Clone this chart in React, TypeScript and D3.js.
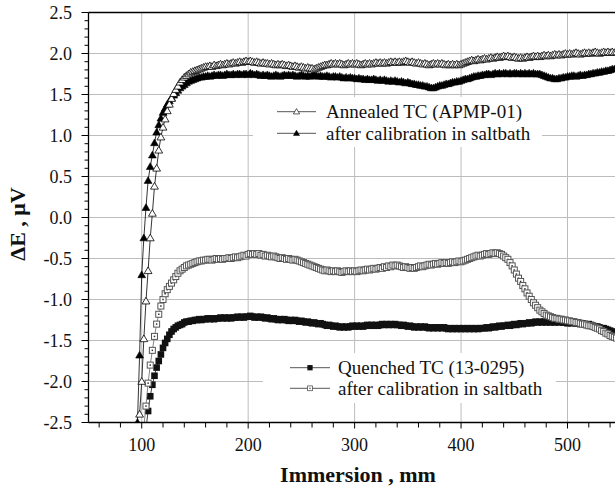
import React from 'react';
import * as d3 from 'd3';

const W = 615;
const H = 487;

const xTicks = [100, 200, 300, 400, 500];
const yTicks = [2.5, 2.0, 1.5, 1.0, 0.5, 0.0, -0.5, -1.0, -1.5, -2.0, -2.5];
const stepMm = 2;

// Open triangles: Annealed TC (APMP-01)
const annealedStart = 98;
const annealed = [
  -2.40, -2.00, -1.48, -1.02, -0.65, -0.25, 0.05, 0.38, 0.60, 0.82,
  0.98, 1.10, 1.20, 1.30, 1.38, 1.45, 1.51, 1.56, 1.60, 1.65,
  1.68, 1.71, 1.73, 1.75, 1.77, 1.78, 1.79, 1.80, 1.81, 1.82,
  1.83, 1.84, 1.84, 1.85, 1.84, 1.86, 1.85, 1.86, 1.87, 1.86,
  1.87, 1.88, 1.87, 1.88, 1.89, 1.88, 1.89, 1.90, 1.89, 1.90,
  1.91, 1.90, 1.91, 1.90, 1.89, 1.90, 1.89, 1.88, 1.89, 1.88,
  1.88, 1.87, 1.88, 1.87, 1.86, 1.87, 1.86, 1.87, 1.86, 1.85,
  1.86, 1.85, 1.84, 1.85, 1.84, 1.83, 1.84, 1.83, 1.82, 1.83,
  1.82, 1.82, 1.81, 1.82, 1.83, 1.84, 1.85, 1.86, 1.86, 1.87,
  1.88, 1.87, 1.88, 1.87, 1.88, 1.87, 1.86, 1.87, 1.88, 1.87,
  1.88, 1.87, 1.88, 1.87, 1.86, 1.87, 1.88, 1.87, 1.88, 1.87,
  1.88, 1.89, 1.88, 1.89, 1.88, 1.89, 1.88, 1.89, 1.90, 1.89,
  1.90, 1.89, 1.90, 1.89, 1.90, 1.91, 1.90, 1.89, 1.90, 1.89,
  1.88, 1.89, 1.88, 1.87, 1.88, 1.87, 1.86, 1.87, 1.88, 1.87,
  1.88, 1.87, 1.88, 1.87, 1.86, 1.87, 1.86, 1.87, 1.86, 1.87,
  1.86, 1.87, 1.88, 1.89, 1.90, 1.91, 1.92, 1.91, 1.92, 1.93,
  1.92, 1.93, 1.94, 1.93, 1.94, 1.95, 1.94, 1.95, 1.96, 1.95,
  1.96, 1.97, 1.96, 1.97, 1.96, 1.95, 1.96, 1.95, 1.94, 1.95,
  1.94, 1.95, 1.96, 1.95, 1.96, 1.97, 1.96, 1.97, 1.96, 1.97,
  1.98, 1.97, 1.98, 1.97, 1.98, 1.99, 1.98, 1.99, 1.98, 1.99,
  2.00, 1.99, 2.00, 1.99, 2.00, 2.01, 2.00, 1.99, 2.00, 2.01,
  2.00, 2.01, 2.00, 2.01, 2.02, 2.01, 2.00, 2.01, 2.02, 2.01,
  2.02, 2.01, 2.02, 2.01, 2.02,
];

// Filled triangles: annealed, after calibration in saltbath
const annealedCalStart = 96;
const annealedCal = [
  -2.50, -1.68, -0.70, -0.25, 0.12, 0.45, 0.62, 0.76, 0.91, 1.04,
  1.13, 1.21, 1.28, 1.33, 1.38, 1.42, 1.46, 1.49, 1.52, 1.55,
  1.58, 1.60, 1.62, 1.64, 1.66, 1.67, 1.68, 1.69, 1.70, 1.71,
  1.71, 1.72, 1.72, 1.73, 1.72, 1.73, 1.74, 1.73, 1.74, 1.74,
  1.73, 1.74, 1.75, 1.74, 1.74, 1.75, 1.74, 1.75, 1.75, 1.74,
  1.75, 1.75, 1.74, 1.76, 1.75, 1.74, 1.75, 1.74, 1.73, 1.74,
  1.73, 1.74, 1.73, 1.72, 1.73, 1.74, 1.73, 1.72, 1.73, 1.74,
  1.73, 1.74, 1.73, 1.74, 1.73, 1.72, 1.73, 1.74, 1.73, 1.72,
  1.73, 1.72, 1.73, 1.74, 1.73, 1.72, 1.73, 1.72, 1.72, 1.73,
  1.72, 1.71, 1.72, 1.72, 1.71, 1.72, 1.71, 1.70, 1.71, 1.70,
  1.71, 1.70, 1.70, 1.69, 1.70, 1.69, 1.69, 1.68, 1.69, 1.68,
  1.68, 1.69, 1.68, 1.67, 1.68, 1.67, 1.68, 1.67, 1.66, 1.67,
  1.66, 1.67, 1.66, 1.65, 1.66, 1.65, 1.64, 1.65, 1.64, 1.63,
  1.63, 1.62, 1.62, 1.61, 1.61, 1.60, 1.60, 1.59, 1.58, 1.58,
  1.59, 1.60, 1.61, 1.61, 1.62, 1.63, 1.63, 1.64, 1.65, 1.65,
  1.66, 1.66, 1.67, 1.68, 1.69, 1.69, 1.70, 1.71, 1.72, 1.72,
  1.73, 1.73, 1.74, 1.74, 1.75, 1.75, 1.74, 1.75, 1.76, 1.75,
  1.76, 1.75, 1.76, 1.76, 1.75, 1.76, 1.75, 1.76, 1.76, 1.75,
  1.76, 1.75, 1.76, 1.75, 1.76, 1.75, 1.76, 1.75, 1.75, 1.75,
  1.74, 1.73, 1.72, 1.71, 1.70, 1.70, 1.69, 1.69, 1.70, 1.70,
  1.71, 1.71, 1.72, 1.72, 1.73, 1.73, 1.72, 1.73, 1.74, 1.73,
  1.74, 1.74, 1.75, 1.75, 1.76, 1.76, 1.77, 1.77, 1.78, 1.78,
  1.79, 1.79, 1.80, 1.81, 1.81, 1.82,
];

// Filled squares: Quenched TC (13-0295)
const quenchedStart = 102;
const quenched = [
  -2.85, -2.58, -2.36, -2.18, -2.04, -1.93, -1.83, -1.75, -1.67, -1.59,
  -1.53, -1.48, -1.43, -1.39, -1.36, -1.34, -1.32, -1.31, -1.30, -1.28,
  -1.27, -1.27, -1.26, -1.26, -1.25, -1.25, -1.24, -1.25, -1.24, -1.24,
  -1.23, -1.24, -1.23, -1.24, -1.23, -1.23, -1.22, -1.23, -1.22, -1.23,
  -1.22, -1.23, -1.22, -1.22, -1.21, -1.22, -1.21, -1.22, -1.21, -1.21,
  -1.20, -1.21, -1.22, -1.21, -1.22, -1.21, -1.22, -1.23, -1.22, -1.23,
  -1.24, -1.23, -1.24, -1.25, -1.24, -1.25, -1.24, -1.25, -1.26, -1.25,
  -1.26, -1.25, -1.26, -1.27, -1.26, -1.27, -1.28, -1.27, -1.28, -1.29,
  -1.28, -1.29, -1.30, -1.29, -1.30, -1.31, -1.32, -1.31, -1.32, -1.33,
  -1.32, -1.33, -1.34, -1.33, -1.34, -1.33, -1.34, -1.33, -1.32, -1.33,
  -1.32, -1.33, -1.32, -1.33, -1.32, -1.31, -1.32, -1.31, -1.32, -1.31,
  -1.32, -1.31, -1.30, -1.31, -1.30, -1.31, -1.30, -1.31, -1.30, -1.31,
  -1.31, -1.32, -1.31, -1.32, -1.33, -1.32, -1.33, -1.34, -1.33, -1.34,
  -1.33, -1.34, -1.33, -1.34, -1.35, -1.34, -1.35, -1.34, -1.35, -1.34,
  -1.35, -1.34, -1.35, -1.36, -1.35, -1.36, -1.35, -1.36, -1.35, -1.36,
  -1.35, -1.36, -1.35, -1.36, -1.35, -1.36, -1.35, -1.36, -1.35, -1.35,
  -1.35, -1.34, -1.35, -1.34, -1.33, -1.34, -1.33, -1.32, -1.33, -1.32,
  -1.32, -1.31, -1.32, -1.31, -1.30, -1.31, -1.30, -1.29, -1.30, -1.29,
  -1.29, -1.28, -1.29, -1.28, -1.27, -1.28, -1.27, -1.28, -1.27, -1.28,
  -1.27, -1.28, -1.27, -1.28, -1.27, -1.28, -1.27, -1.28, -1.28, -1.29,
  -1.28, -1.29, -1.28, -1.29, -1.29, -1.30, -1.29, -1.30, -1.31, -1.30,
  -1.31, -1.32, -1.33, -1.33, -1.34, -1.35, -1.35, -1.36, -1.37, -1.38,
  -1.39, -1.40, -1.41,
];

// Open squares: quenched, after calibration in saltbath
const quenchedCalStart = 102;
const quenchedCal = [
  -2.55, -2.30, -2.02, -1.80, -1.62, -1.45, -1.30, -1.18, -1.08, -1.00,
  -0.93, -0.88, -0.84, -0.80, -0.76, -0.72, -0.68, -0.65, -0.63, -0.61,
  -0.59, -0.58, -0.57, -0.56, -0.55, -0.54, -0.53, -0.53, -0.52, -0.52,
  -0.51, -0.51, -0.52, -0.51, -0.50, -0.51, -0.50, -0.51, -0.50, -0.50,
  -0.49, -0.50, -0.49, -0.48, -0.49, -0.48, -0.47, -0.46, -0.47, -0.45,
  -0.44, -0.45, -0.44, -0.45, -0.44, -0.46, -0.45, -0.47, -0.46, -0.47,
  -0.48, -0.47, -0.48, -0.49, -0.50, -0.49, -0.50, -0.51, -0.50, -0.51,
  -0.52, -0.51, -0.52, -0.53, -0.54, -0.55, -0.56, -0.57, -0.58, -0.59,
  -0.60, -0.61, -0.62, -0.63, -0.64, -0.65, -0.64, -0.65, -0.66, -0.65,
  -0.66, -0.65, -0.66, -0.67, -0.66, -0.65, -0.66, -0.65, -0.66, -0.65,
  -0.66, -0.65, -0.64, -0.65, -0.64, -0.63, -0.64, -0.63, -0.62, -0.63,
  -0.62, -0.61, -0.62, -0.60, -0.61, -0.59, -0.60, -0.58, -0.59, -0.58,
  -0.59, -0.60, -0.61, -0.60, -0.61, -0.62, -0.61, -0.62, -0.61, -0.60,
  -0.59, -0.60, -0.59, -0.58, -0.57, -0.58, -0.57, -0.56, -0.57, -0.56,
  -0.55, -0.56, -0.55, -0.56, -0.55, -0.54, -0.55, -0.54, -0.53, -0.54,
  -0.53, -0.52, -0.51, -0.50, -0.49, -0.48, -0.47, -0.46, -0.47, -0.46,
  -0.45, -0.44, -0.45, -0.44, -0.43, -0.44, -0.43, -0.44, -0.45, -0.47,
  -0.49, -0.51, -0.55, -0.59, -0.64, -0.69, -0.74, -0.78, -0.83, -0.87,
  -0.92, -0.96, -1.00, -1.04, -1.07, -1.10, -1.13, -1.15, -1.17, -1.19,
  -1.20, -1.21, -1.22, -1.23, -1.23, -1.24, -1.24, -1.25, -1.25, -1.26,
  -1.26, -1.27, -1.27, -1.28, -1.28, -1.29, -1.30, -1.30, -1.31, -1.32,
  -1.32, -1.33, -1.34, -1.35, -1.36, -1.38, -1.39, -1.41, -1.42, -1.44,
  -1.45, -1.46, -1.47,
];

const legendTopLabels = ['Annealed TC (APMP-01)', 'after calibration in saltbath'];
const legendBottomLabels = ['Quenched TC (13-0295)', 'after calibration in saltbath'];
const xTitle = 'Immersion , mm';
const yTitle = 'ΔE , μV';

const FONT = '"Liberation Serif", "DejaVu Serif", "Times New Roman", serif';

type Kind = 'openTri' | 'fillTri' | 'fillSq' | 'openSq';

const TRI = 'M0,-3.9L3.9,2.8L-3.9,2.8Z';

function Marker({ kind, x, y, s = 1 }: { kind: Kind; x: number; y: number; s?: number }) {
  const t = `translate(${x},${y}) scale(${s})`;
  if (kind === 'openTri') return <path d={TRI} transform={t} fill="#fff" stroke="#000" strokeWidth={0.8} />;
  if (kind === 'fillTri') return <path d={TRI} transform={t} fill="#000" stroke="#000" strokeWidth={0.6} />;
  if (kind === 'fillSq') return <rect x={-3.3} y={-3.3} width={6.6} height={6.6} transform={t} fill="#111" />;
  return (
    <g transform={t}>
      <rect x={-3} y={-3} width={6} height={6} fill="#fff" stroke="#555" strokeWidth={1} />
      <rect x={-0.75} y={-0.75} width={1.5} height={1.5} fill="#333" />
    </g>
  );
}

export default function App() {
  const x = d3.scaleLinear().domain([50, 500]).range([88.5, 567.5]);
  const y = d3.scaleLinear().domain([-2.5, 2.5]).range([422.5, 12.5]);
  const left = x(50);
  const bottom = y(-2.5);
  const top = y(2.5);

  const toPts = (start: number, vals: number[]) =>
    vals.map((v, i) => [start + i * stepMm, v] as [number, number]);

  const series: { kind: Kind; pts: [number, number][]; line: string }[] = [
    { kind: 'fillSq', pts: toPts(quenchedStart, quenched), line: '#111' },
    { kind: 'openSq', pts: toPts(quenchedCalStart, quenchedCal), line: '#666' },
    { kind: 'fillTri', pts: toPts(annealedCalStart, annealedCal), line: '#000' },
    { kind: 'openTri', pts: toPts(annealedStart, annealed), line: '#000' },
  ];

  const lineGen = d3.line<[number, number]>().x((d) => x(d[0])).y((d) => y(d[1]));

  const yMinor = d3.range(-25, 26).map((k) => k / 10);
  const xMinor = d3.range(60, 560, 20);

  const topLegend = { x0: 253, x1: 542, y0: 97, y1: 147, rows: [111.7, 133.3], lx: 277, lw: 39, tx: 326 };
  const botLegend = { x0: 263, x1: 556, y0: 353, y1: 403, rows: [367.7, 388.3], lx: 290, lw: 40, tx: 338 };

  const txt = { fontFamily: FONT };

  return (
    <svg width={W} height={H} style={{ position: 'absolute', left: 0, top: 0, background: '#fff', fontFamily: FONT }}>
      <defs>
        <clipPath id="plot">
          <rect x={left} y={top} width={W - left + 20} height={bottom - top} />
        </clipPath>
      </defs>
      <rect x={0} y={0} width={W} height={H} fill="#fff" />
      {/* grid */}
      <g stroke="#bdbdbd" strokeWidth={1}>
        {yTicks.filter((t) => t > -2.5 && t < 2.5).map((t) => (
          <line key={'gy' + t} x1={left} x2={W} y1={y(t)} y2={y(t)} />
        ))}
        {xTicks.map((t) => (
          <line key={'gx' + t} x1={x(t)} x2={x(t)} y1={top} y2={bottom} />
        ))}
      </g>
      {/* legend backgrounds */}
      <rect x={topLegend.x0} y={topLegend.y0} width={topLegend.x1 - topLegend.x0} height={topLegend.y1 - topLegend.y0} fill="#fff" />
      <rect x={botLegend.x0} y={botLegend.y0} width={botLegend.x1 - botLegend.x0} height={botLegend.y1 - botLegend.y0} fill="#fff" />
      {/* data */}
      <g clipPath="url(#plot)">
        {series.map((s, si) => (
          <g key={'s' + si}>
            <path d={lineGen(s.pts) || ''} fill="none" stroke={s.line} strokeWidth={0.8} />
            {s.pts.map((p, i) => (
              <Marker key={i} kind={s.kind} x={x(p[0])} y={y(p[1])} />
            ))}
          </g>
        ))}
      </g>
      {/* legends */}
      {[{ L: topLegend, labels: legendTopLabels, kinds: ['openTri', 'fillTri'] as Kind[] },
        { L: botLegend, labels: legendBottomLabels, kinds: ['fillSq', 'openSq'] as Kind[] }].map((g, gi) => (
        <g key={'lg' + gi}>
          {g.labels.map((lab, i) => (
            <g key={i}>
              <line x1={g.L.lx} x2={g.L.lx + g.L.lw} y1={g.L.rows[i]} y2={g.L.rows[i]} stroke="#555" strokeWidth={1} />
              <Marker kind={g.kinds[i]} x={g.L.lx + g.L.lw / 2} y={g.L.rows[i]} s={0.8} />
              <text x={g.L.tx} y={g.L.rows[i] + 6.5} fontSize={19} fill="#111" style={txt}>{lab}</text>
            </g>
          ))}
        </g>
      ))}
      {/* axes */}
      <g stroke="#000" strokeWidth={1.3}>
        <line x1={left} x2={left} y1={top} y2={bottom} />
        <line x1={left} x2={W} y1={bottom} y2={bottom} />
        <line x1={left} x2={W} y1={top} y2={top} />
      </g>
      <g stroke="#000" strokeWidth={1}>
        {yMinor.map((t, i) => {
          const major = Math.abs(t * 2 - Math.round(t * 2)) < 1e-6;
          return <line key={'ym' + i} x1={left - (major ? 7 : 4)} x2={left} y1={y(t)} y2={y(t)} />;
        })}
        {xMinor.map((t) => (
          <line key={'xm' + t} x1={x(t)} x2={x(t)} y1={bottom} y2={bottom + (t % 100 === 0 ? 6 : 5)} />
        ))}
      </g>
      {yTicks.map((t) => (
        <text key={'yl' + t} x={72} y={y(t) + 6} fontSize={18} textAnchor="end" fill="#111" style={txt}>
          {t.toFixed(1)}
        </text>
      ))}
      {xTicks.map((t) => (
        <text key={'xl' + t} x={x(t)} y={451} fontSize={18} textAnchor="middle" fill="#111" style={txt}>
          {t}
        </text>
      ))}
      <text x={358} y={482} fontSize={22} fontWeight="bold" textAnchor="middle" fill="#111" style={txt}>{xTitle}</text>
      <text transform="translate(25,224) rotate(-90)" fontSize={22} fontWeight="bold" textAnchor="middle" fill="#111" style={txt}>{yTitle}</text>
    </svg>
  );
}
